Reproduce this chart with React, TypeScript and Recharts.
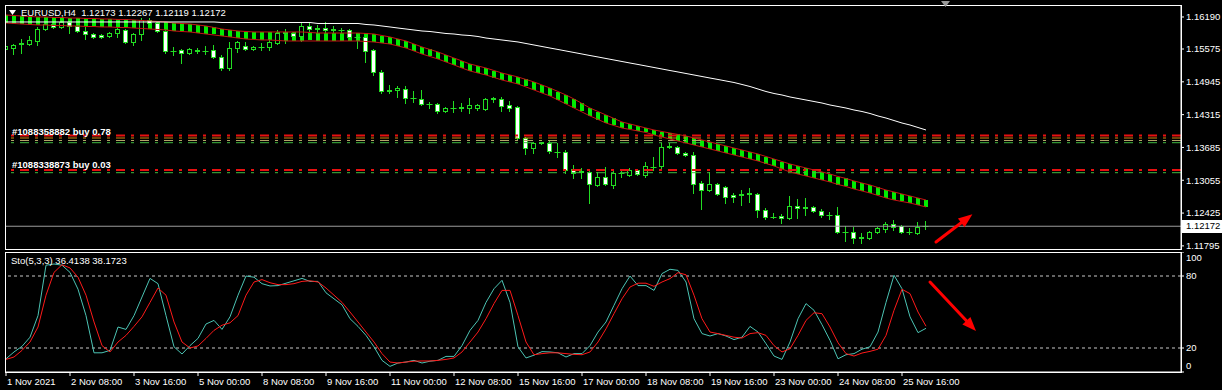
import React from "react";
import { ComposedChart, Bar, Line, XAxis, YAxis, ReferenceLine } from "recharts";

// ---------- data ----------
const openP = [
  1.15575, 1.15594, 1.15671, 1.15671, 1.15729, 1.15959, 1.16055, 1.15998, 1.16094, 1.16017,
  1.15921, 1.15863, 1.15844, 1.15825, 1.15882, 1.1594, 1.1571, 1.15863, 1.16132, 1.16074,
  1.15921, 1.15537, 1.15556, 1.15498, 1.15556, 1.15537, 1.15556, 1.15422, 1.1521, 1.15594,
  1.15633, 1.15575, 1.15614, 1.15614, 1.1569, 1.15882, 1.15882, 1.15825, 1.16017, 1.15959,
  1.15978, 1.1594, 1.1594, 1.1594, 1.15806, 1.15806, 1.15556, 1.15134, 1.14788, 1.14788,
  1.14807, 1.14634, 1.14615, 1.14519, 1.14519, 1.14385, 1.14442, 1.14442, 1.14442, 1.14442,
  1.14423, 1.14615, 1.14615, 1.145, 1.14462, 1.13866, 1.13674, 1.1377, 1.1377, 1.13598,
  1.13598, 1.13271, 1.13214, 1.13214, 1.12964, 1.13118, 1.12964, 1.13194, 1.13156, 1.13252,
  1.13156, 1.1331, 1.13329, 1.13694, 1.13694, 1.13578, 1.1354, 1.13002, 1.12868, 1.12983,
  1.12926, 1.12772, 1.12772, 1.12791, 1.12791, 1.12484, 1.1235, 1.12369, 1.1233, 1.12561,
  1.12522, 1.12542, 1.12465, 1.12388, 1.12388, 1.12062, 1.12062, 1.11946, 1.11946, 1.12062,
  1.12119, 1.12215, 1.12177, 1.12062, 1.12042, 1.12173,
];
const highP = [
  1.15671, 1.15671, 1.15767, 1.15825, 1.15998, 1.16094, 1.16113, 1.16132, 1.16113, 1.16055,
  1.15998, 1.15882, 1.15863, 1.15902, 1.15998, 1.15959, 1.15882, 1.1617, 1.1617, 1.16094,
  1.1594, 1.15614, 1.15575, 1.15594, 1.15594, 1.15633, 1.15652, 1.1546, 1.1571, 1.15729,
  1.1571, 1.15633, 1.1569, 1.15786, 1.1594, 1.15959, 1.15902, 1.16074, 1.16074, 1.16036,
  1.16094, 1.16017, 1.15978, 1.15959, 1.15844, 1.15825, 1.15575, 1.15172, 1.14884, 1.14865,
  1.14865, 1.14769, 1.14788, 1.14558, 1.14538, 1.14462, 1.14577, 1.14538, 1.14634, 1.14519,
  1.14634, 1.14654, 1.14654, 1.14577, 1.14481, 1.13886, 1.1379, 1.1379, 1.13828, 1.1377,
  1.13636, 1.13348, 1.1329, 1.13233, 1.13214, 1.1331, 1.13271, 1.13271, 1.1329, 1.13271,
  1.13406, 1.13502, 1.1377, 1.1377, 1.13713, 1.13598, 1.13598, 1.13041, 1.13214, 1.13002,
  1.12945, 1.1281, 1.12868, 1.12906, 1.1281, 1.12522, 1.12426, 1.12407, 1.12753, 1.12695,
  1.12714, 1.12561, 1.12503, 1.12446, 1.12542, 1.12177, 1.12158, 1.12042, 1.12081, 1.12158,
  1.12254, 1.12292, 1.12196, 1.12138, 1.12254, 1.12267,
];
const lowP = [
  1.15537, 1.15479, 1.15498, 1.15652, 1.15652, 1.1594, 1.15978, 1.15978, 1.15882, 1.15902,
  1.15767, 1.15786, 1.15786, 1.15815, 1.15806, 1.1569, 1.15652, 1.15748, 1.16055, 1.15902,
  1.15498, 1.1546, 1.15306, 1.15479, 1.15498, 1.15479, 1.15402, 1.15172, 1.15172, 1.15518,
  1.15556, 1.15556, 1.15556, 1.15556, 1.15671, 1.1569, 1.15806, 1.15729, 1.15786, 1.15748,
  1.15882, 1.15882, 1.15882, 1.15786, 1.15594, 1.15326, 1.15076, 1.1473, 1.1473, 1.14654,
  1.14538, 1.14558, 1.145, 1.14442, 1.14346, 1.14366, 1.14366, 1.14385, 1.14346, 1.14404,
  1.14404, 1.14558, 1.14385, 1.14385, 1.13847, 1.13559, 1.13578, 1.13751, 1.13578, 1.13502,
  1.13194, 1.13098, 1.13098, 1.12618, 1.12945, 1.12964, 1.12906, 1.13118, 1.13137, 1.13156,
  1.13118, 1.13252, 1.13252, 1.13674, 1.13559, 1.13521, 1.1281, 1.12503, 1.12849, 1.12772,
  1.12618, 1.12638, 1.1258, 1.12638, 1.1235, 1.12311, 1.1233, 1.12234, 1.12311, 1.1233,
  1.12388, 1.12446, 1.1235, 1.12311, 1.12042, 1.11889, 1.1185, 1.1185, 1.11927, 1.12042,
  1.12062, 1.121, 1.12042, 1.12023, 1.12023, 1.12119,
];
const closeP = [
  1.15633, 1.15652, 1.1569, 1.15748, 1.15959, 1.16055, 1.15998, 1.16094, 1.16017, 1.15921,
  1.15863, 1.15806, 1.15806, 1.15882, 1.15959, 1.1571, 1.15863, 1.16132, 1.16074, 1.15921,
  1.15537, 1.15546, 1.15498, 1.15575, 1.15537, 1.15546, 1.15422, 1.1521, 1.15594, 1.1571,
  1.15575, 1.15614, 1.15623, 1.1571, 1.15882, 1.15892, 1.15825, 1.16017, 1.15959, 1.15978,
  1.1594, 1.1595, 1.15945, 1.15806, 1.158, 1.15537, 1.15134, 1.14769, 1.14778, 1.14826,
  1.14634, 1.1463, 1.14519, 1.14515, 1.14385, 1.14442, 1.14447, 1.14462, 1.145, 1.145,
  1.14615, 1.14625, 1.14481, 1.14442, 1.13866, 1.13674, 1.1377, 1.1378, 1.13617, 1.13594,
  1.13252, 1.13194, 1.13233, 1.12983, 1.13118, 1.12983, 1.13194, 1.1319, 1.13252, 1.13175,
  1.13329, 1.13319, 1.13694, 1.13713, 1.13578, 1.1354, 1.12983, 1.12868, 1.12983, 1.12791,
  1.12734, 1.12734, 1.12791, 1.1281, 1.12484, 1.1235, 1.12359, 1.1233, 1.12561, 1.12522,
  1.12532, 1.12465, 1.12388, 1.12384, 1.12062, 1.12058, 1.11946, 1.11956, 1.12062, 1.12138,
  1.12215, 1.12158, 1.12062, 1.12058, 1.12158, 1.12172,
];
const ribbonUpper = [
  1.16228, 1.16218, 1.16209, 1.16199, 1.1619, 1.1619, 1.1618, 1.1618, 1.1617, 1.1617,
  1.16161, 1.16161, 1.16151, 1.16151, 1.16142, 1.16142, 1.16132, 1.16122, 1.16113, 1.16103,
  1.16094, 1.16074, 1.16065, 1.16055, 1.16036, 1.16017, 1.15988, 1.15959, 1.1594, 1.15921,
  1.15911, 1.15902, 1.15902, 1.15902, 1.15902, 1.15902, 1.15902, 1.15902, 1.15892, 1.15882,
  1.15882, 1.15882, 1.15882, 1.15882, 1.15882, 1.15873, 1.15863, 1.15834, 1.15806, 1.15767,
  1.15729, 1.15671, 1.15614, 1.15566, 1.15518, 1.1546, 1.15402, 1.15345, 1.15287, 1.15249,
  1.1521, 1.15162, 1.15114, 1.15076, 1.15038, 1.1499, 1.14942, 1.14884, 1.14826, 1.14759,
  1.14692, 1.14615, 1.14529, 1.14442, 1.14375, 1.14308, 1.14241, 1.14174, 1.14135, 1.14097,
  1.14058, 1.1402, 1.13991, 1.13962, 1.13934, 1.13905, 1.13866, 1.13828, 1.1379, 1.13751,
  1.13713, 1.13674, 1.13636, 1.13598, 1.13559, 1.13511, 1.13463, 1.13415, 1.13367, 1.13329,
  1.1329, 1.13252, 1.13214, 1.13175, 1.13127, 1.13089, 1.13041, 1.13002, 1.12964, 1.12916,
  1.12868, 1.1283, 1.12791, 1.12753, 1.12714, 1.12676,
];
const ribbonLower = [
  1.16074, 1.16065, 1.16055, 1.16046, 1.16036, 1.16036, 1.16026, 1.16026, 1.16017, 1.16017,
  1.16007, 1.16007, 1.15998, 1.15998, 1.15988, 1.15988, 1.15978, 1.15969, 1.15959, 1.1595,
  1.1594, 1.15921, 1.15911, 1.15902, 1.15882, 1.15863, 1.15844, 1.15825, 1.15806, 1.15786,
  1.15767, 1.15758, 1.15748, 1.15748, 1.15738, 1.15729, 1.15729, 1.15729, 1.15729, 1.15729,
  1.15729, 1.15729, 1.15729, 1.15729, 1.15729, 1.15719, 1.1571, 1.1569, 1.15671, 1.15633,
  1.15594, 1.15537, 1.15479, 1.15431, 1.15383, 1.15326, 1.15268, 1.1521, 1.15153, 1.15114,
  1.15076, 1.15028, 1.1498, 1.14942, 1.14903, 1.14846, 1.14788, 1.1473, 1.14673, 1.14596,
  1.14519, 1.14442, 1.14366, 1.14289, 1.14222, 1.14154, 1.14106, 1.14058, 1.1403, 1.14001,
  1.13972, 1.13924, 1.13886, 1.13847, 1.13809, 1.1377, 1.13732, 1.13694, 1.13655, 1.13617,
  1.13578, 1.1354, 1.13502, 1.13463, 1.13425, 1.13377, 1.13329, 1.13271, 1.13214, 1.13175,
  1.13137, 1.13098, 1.1306, 1.13022, 1.12974, 1.12935, 1.12887, 1.12849, 1.1281, 1.12762,
  1.12714, 1.12676, 1.12647, 1.12618, 1.1258, 1.12542,
];
const maWhite = [
  1.16094, 1.16094, 1.16094, 1.16094, 1.16094, 1.16094, 1.16094, 1.16094, 1.16094, 1.16094,
  1.16094, 1.16094, 1.16094, 1.16094, 1.16094, 1.16094, 1.16094, 1.16094, 1.16094, 1.16094,
  1.16094, 1.16094, 1.16094, 1.16094, 1.16094, 1.16094, 1.16094, 1.16084, 1.16084, 1.16084,
  1.16084, 1.16084, 1.16084, 1.16084, 1.16084, 1.16084, 1.16084, 1.16084, 1.16084, 1.16065,
  1.16065, 1.16065, 1.16065, 1.16065, 1.16065, 1.16046, 1.16036, 1.16017, 1.15998, 1.15978,
  1.15959, 1.1594, 1.15921, 1.15911, 1.15892, 1.15873, 1.15863, 1.15844, 1.15834, 1.15815,
  1.15786, 1.15767, 1.15748, 1.15729, 1.1571, 1.15681, 1.15652, 1.15623, 1.15594, 1.15566,
  1.15537, 1.15508, 1.15479, 1.1545, 1.15422, 1.15393, 1.15364, 1.15335, 1.15306, 1.15278,
  1.15249, 1.1522, 1.15191, 1.15162, 1.15134, 1.15105, 1.15076, 1.15047, 1.15018, 1.1499,
  1.14961, 1.14932, 1.14894, 1.14855, 1.14807, 1.14759, 1.14721, 1.14692, 1.14654, 1.14625,
  1.14596, 1.14567, 1.14538, 1.145, 1.14471, 1.14442, 1.14404, 1.14375, 1.14337, 1.14289,
  1.1425, 1.14202, 1.14154, 1.14116, 1.14068, 1.1402,
];
const stochMain = [
  11, 16.7, 21.4, 29, 47, 89, 90, 89, 83, 69,
  47, 16, 16, 18, 37.5, 35.5, 47, 62.5, 78, 73.6,
  47, 21, 15, 22, 28, 40, 43, 35.5, 46, 64,
  80, 79, 73.6, 71.7, 72, 74, 76, 78, 75.5, 75.5,
  66, 61, 56, 44.4, 38, 30.5, 21, 9.7, 4.7, 7.5,
  8.3, 9.7, 7.5, 9, 9.7, 13, 13, 22, 34.7, 43,
  58, 69.4, 76.4, 58, 21, 11.7, 14, 17, 16.7, 16,
  12.5, 15.3, 15.3, 22, 33.3, 41.7, 55.6, 69.4, 80, 72,
  72, 68, 82, 85.6, 84.7, 75, 44.4, 32, 30, 32,
  30, 27, 29, 38, 33.3, 23.6, 13.3, 10.5, 25, 44.4,
  57, 51.4, 39.4, 26.4, 11, 14.4, 15.3, 19, 21, 33.3,
  58, 80.6, 69.4, 46, 32.8, 36.41,
];
const stochSignal = [
  10.5, 12.5, 18, 25, 37.5, 64, 83, 89.4, 86.7, 79,
  64, 41.7, 22, 16.7, 25, 30.5, 38, 46, 58, 70,
  64, 41.7, 25, 20, 21.7, 28, 34.7, 39, 41, 47,
  64, 75, 77, 74.4, 72.8, 72.8, 73.6, 75.5, 76, 75,
  70, 64, 58, 50, 41.7, 33.3, 25, 15.3, 8.3, 7.5,
  8.3, 9, 9.2, 9.2, 9.7, 10.5, 11.7, 16.7, 25, 33.3,
  44.4, 57, 68, 68, 47, 25, 14.4, 15.3, 16, 16,
  15.3, 14.7, 14.4, 16.7, 25, 36, 48.6, 61, 70.8, 74,
  74, 71.4, 75, 77.8, 82.8, 81, 64, 44.4, 33.3, 32,
  30.5, 29, 28.3, 32, 32.8, 30.5, 22, 16.7, 19.4, 30.5,
  43, 49.4, 48.6, 37.5, 24.4, 15.3, 13.3, 15.8, 17.2, 19,
  30.5, 51.4, 68.9, 65.3, 50, 38.17,
];
const xTickBars = [0, 8, 16, 24, 32, 40, 48, 56, 64, 72, 80, 88, 96, 104, 112];
const xTickLabels = [
  "1 Nov 2021", "2 Nov 08:00", "3 Nov 16:00", "5 Nov 00:00", "8 Nov 08:00",
  "9 Nov 16:00", "11 Nov 00:00", "12 Nov 08:00", "15 Nov 16:00", "17 Nov 00:00",
  "18 Nov 08:00", "19 Nov 16:00", "23 Nov 00:00", "24 Nov 08:00", "25 Nov 16:00",
];
const priceTicks = [1.11795, 1.12425, 1.13055, 1.13685, 1.14315, 1.14945, 1.15575, 1.1619];
const stochTicks = [0, 20, 80, 100];
const orderLevels = [1.13914, 1.13866, 1.13818, 1.13776, 1.13252, 1.132];
const orderColors = ["#e81010", "#d08a10", "#b4a468", "#3fb83f", "#e81010", "#3fb83f"];
const orderLabels = ["#1088358882 buy 0.78", "#1088338873 buy 0.03"];
const currentPrice = 1.12172;
const headerText = "EURUSD,H4  1.12173 1.12267 1.12119 1.12172";
const stochText = "Sto(5,3,3) 36.4138 38.1723";
const mainArrow = [{ x: 116.25, y: 1.1187 }, { x: 120.8, y: 1.12401 }];
const stochArrow = [{ x: 115.5, y: 75 }, { x: 121.25, y: 34.2 }];

// ---------- chart tables ----------
const mainData = openP.map((o, i) => ({
  i,
  open: o,
  high: highP[i],
  low: lowP[i],
  close: closeP[i],
  up: ribbonUpper[i],
  lo: ribbonLower[i],
  ma: maWhite[i],
}));
const stochData = stochMain.map((k, i) => ({ i, k, d: stochSignal[i] }));

const X_DOMAIN: [number, number] = [-0.125, 146.875];
const P_DOMAIN: [number, number] = [1.11735, 1.1642];
const FONT = '"Liberation Sans", Arial, sans-serif';
const CANDLE = "#22dc22";
const RIBBON = "#00ec00";
const DARKRED = "#c41414";
const TEAL = "#4cc4b4";
const RED = "#ff1a1a";

const CandleShape = (props: any) => {
  const { x, y, width, height, payload } = props;
  if (!payload || height == null) return null;
  const { open, close, high, low } = payload;
  const top0 = Math.min(y, y + height);
  const h = Math.abs(height);
  const range = high - low || 1e-9;
  const py = (v: number) => top0 + ((high - v) / range) * h;
  const cx = Math.round(x + width / 2 - 0.01) + 0.5;
  const bTop = Math.round(py(Math.max(open, close)));
  const bBot = Math.round(py(Math.min(open, close)));
  const bull = close >= open;
  return (
    <g>
      <line x1={cx} x2={cx} y1={Math.round(top0)} y2={Math.round(top0 + h) + 1} stroke={CANDLE} strokeWidth={1} />
      {bBot - bTop < 1 ? (
        <line x1={cx - 3} x2={cx + 3} y1={bTop + 0.5} y2={bTop + 0.5} stroke={CANDLE} strokeWidth={1} />
      ) : (
        <rect x={cx - 2} y={bTop + 0.5} width={4} height={bBot - bTop} fill={bull ? "#000" : "#fff"} stroke={CANDLE} strokeWidth={1} />
      )}
    </g>
  );
};

const RibbonShape = (props: any) => {
  const { x, y, width, height } = props;
  if (height == null) return null;
  const top0 = Math.round(Math.min(y, y + height));
  const h = Math.max(1, Math.round(Math.abs(height)));
  const cx = Math.round(x + width / 2 - 0.01);
  return <rect x={cx - 2} y={top0} width={4} height={h} fill={RIBBON} />;
};

const ArrowShape = (p: any) => {
  const { x1, y1, x2, y2 } = p;
  if ([x1, y1, x2, y2].some((v) => v == null || isNaN(v))) return null;
  const ang = Math.atan2(y2 - y1, x2 - x1);
  const L = 14;
  const W = 5.5;
  const bx = x2 - L * Math.cos(ang);
  const by = y2 - L * Math.sin(ang);
  const px = -Math.sin(ang) * W;
  const py = Math.cos(ang) * W;
  return (
    <g>
      <line x1={x1} y1={y1} x2={bx} y2={by} stroke="#ff0000" strokeWidth={3} strokeLinecap="round" />
      <polygon points={`${x2},${y2} ${bx + px},${by + py} ${bx - px},${by - py}`} fill="#ff0000" />
    </g>
  );
};

const PriceBox = (p: any) => {
  const vb = p.viewBox || {};
  const yy = Math.round(vb.y);
  const xr = Math.round(vb.x + vb.width);
  return (
    <g>
      <rect x={xr + 1} y={yy - 6} width={41} height={13} fill="#ffffff" />
      <text x={xr + 5} y={yy} dy="0.355em" fill="#000" fontSize={9.5} fontFamily={FONT}>
        {currentPrice.toFixed(5)}
      </text>
    </g>
  );
};

const XTick = (p: any) => {
  const { x, y, payload } = p;
  const idx = xTickBars.indexOf(payload.value);
  return (
    <text x={x + 1} y={y} dy={7} fill="#ffffff" fontSize={9.5} fontFamily={FONT} textAnchor="start">
      {idx >= 0 ? xTickLabels[idx] : ""}
    </text>
  );
};

const StochTick = (p: any) => {
  const { x, y, payload } = p;
  const v = payload.value;
  const dy = v === 100 ? 6 : v === 0 ? -6 : 0;
  return (
    <text x={x} y={y + dy} dy="0.355em" fill="#ffffff" fontSize={9.5} fontFamily={FONT} textAnchor="start">
      {v}
    </text>
  );
};

const txt = (left: number, top: number, s: string, extra: any = {}) => (
  <div
    style={{
      position: "absolute",
      left,
      top,
      color: "#ffffff",
      fontSize: 9.5,
      lineHeight: "12px",
      whiteSpace: "pre",
      fontFamily: FONT,
      pointerEvents: "none",
      ...extra,
    }}
  >
    {s}
  </div>
);

export default function App() {
  return (
    <div
      style={{
        position: "relative",
        width: 1222,
        height: 390,
        background: "#000",
        overflow: "hidden",
        fontFamily: FONT,
      }}
    >
      <style>{`body{margin:0;background:#000;}`}</style>

      {/* main price panel */}
      <div style={{ position: "absolute", left: 0, top: 0 }}>
        <ComposedChart width={1222} height={250} data={mainData} margin={{ top: 5, right: 0, bottom: 1, left: 5 }}>
          <XAxis xAxisId="c" dataKey="i" type="number" domain={X_DOMAIN} allowDataOverflow hide />
          <XAxis xAxisId="r" dataKey="i" type="number" domain={X_DOMAIN} allowDataOverflow hide />
          <YAxis
            yAxisId="p"
            orientation="right"
            width={41}
            domain={P_DOMAIN}
            allowDataOverflow
            ticks={priceTicks}
            interval={0}
            tickFormatter={(v: number) => v.toFixed(5)}
            tick={{ fill: "#ffffff", fontSize: 9.5, fontFamily: FONT }}
            tickLine={{ stroke: "#ffffff" }}
            tickSize={3}
            axisLine={{ stroke: "#ffffff" }}
          />
          {orderLevels.map((lv, k) => (
            <ReferenceLine
              key={"o" + k}
              xAxisId="r"
              yAxisId="p"
              y={lv}
              stroke={orderColors[k]}
              strokeWidth={k === 0 || k === 4 ? 2 : 1}
              strokeDasharray="9 6 3 6"
            />
          ))}
          <ReferenceLine xAxisId="r" yAxisId="p" y={currentPrice} stroke="#9c9c9c" strokeWidth={1} label={PriceBox} />
          <Bar
            xAxisId="r"
            yAxisId="p"
            dataKey={(d: any) => [d.lo, d.up]}
            barSize={4}
            shape={RibbonShape}
            isAnimationActive={false}
          />
          <Line xAxisId="r" yAxisId="p" dataKey="up" stroke={DARKRED} strokeWidth={1} dot={false} activeDot={false} isAnimationActive={false} />
          <Line xAxisId="r" yAxisId="p" dataKey="lo" stroke={DARKRED} strokeWidth={1} dot={false} activeDot={false} isAnimationActive={false} />
          <Line xAxisId="r" yAxisId="p" dataKey="ma" stroke="#ffffff" strokeWidth={1} dot={false} activeDot={false} isAnimationActive={false} />
          <Bar
            xAxisId="c"
            yAxisId="p"
            dataKey={(d: any) => [d.low, d.high]}
            barSize={5}
            shape={CandleShape}
            isAnimationActive={false}
          />
          <ReferenceLine xAxisId="r" yAxisId="p" segment={mainArrow} shape={ArrowShape} />
        </ComposedChart>
      </div>

      {/* stochastic panel */}
      <div style={{ position: "absolute", left: 0, top: 252 }}>
        <ComposedChart width={1222} height={138} data={stochData} margin={{ top: 0, right: 0, bottom: 0, left: 5 }}>
          <XAxis
            xAxisId="s"
            dataKey="i"
            type="number"
            domain={X_DOMAIN}
            allowDataOverflow
            ticks={xTickBars}
            interval={0}
            tick={XTick}
            tickLine={{ stroke: "#ffffff" }}
            tickSize={4}
            axisLine={{ stroke: "#ffffff" }}
            height={18}
          />
          <YAxis
            yAxisId="s"
            orientation="right"
            width={41}
            domain={[0, 100]}
            allowDataOverflow
            ticks={stochTicks}
            interval={0}
            tick={StochTick}
            tickLine={{ stroke: "#ffffff" }}
            tickSize={3}
            axisLine={{ stroke: "#ffffff" }}
          />
          <ReferenceLine xAxisId="s" yAxisId="s" y={80} stroke="#c8c8c8" strokeDasharray="3 3" />
          <ReferenceLine xAxisId="s" yAxisId="s" y={20} stroke="#c8c8c8" strokeDasharray="3 3" />
          <Line xAxisId="s" yAxisId="s" dataKey="k" stroke={TEAL} strokeWidth={1} dot={false} activeDot={false} isAnimationActive={false} />
          <Line xAxisId="s" yAxisId="s" dataKey="d" stroke={RED} strokeWidth={1} dot={false} activeDot={false} isAnimationActive={false} />
          <ReferenceLine xAxisId="s" yAxisId="s" segment={stochArrow} shape={ArrowShape} />
        </ComposedChart>
      </div>

      {/* panel frames */}
      <div style={{ position: "absolute", left: 5, top: 5, width: 1177, height: 245, border: "1px solid #fff", boxSizing: "border-box", pointerEvents: "none" }} />
      <div style={{ position: "absolute", left: 5, top: 252, width: 1177, height: 121, border: "1px solid #fff", boxSizing: "border-box", pointerEvents: "none" }} />

      {/* header, markers and labels */}
      <svg width={1222} height={20} style={{ position: "absolute", left: 0, top: 0, pointerEvents: "none" }}>
        <polygon points="9,10 16,10 12.5,15" fill="#ffffff" />
        <polygon points="941,1 950,1 945.5,7" fill="#9a9a9a" />
      </svg>
      {txt(21, 7, headerText)}
      {txt(11, 255, stochText)}
      {txt(12, 126, orderLabels[0], { fontWeight: "bold" })}
      {txt(12, 159, orderLabels[1], { fontWeight: "bold" })}
    </div>
  );
}
